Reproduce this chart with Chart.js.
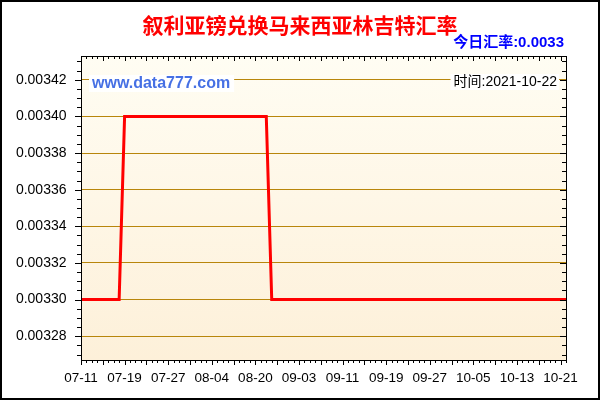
<!DOCTYPE html>
<html>
<head>
<meta charset="utf-8">
<script src="https://cdn.jsdelivr.net/npm/chart.js@4/dist/chart.umd.min.js"></script>
<style>
  html, body { margin: 0; padding: 0; background: #fff; }
  #wrap { width: 600px; height: 400px; }
</style>
</head>
<body>
<div id="wrap"><canvas id="chartRate" width="600" height="400"></canvas></div>
<script>
// Textos do gráfico
const titulo = "叙利亚镑兑换马来西亚林吉特汇率";
const taxaHoje = "今日汇率:0.0033";
const site = "www.data777.com";
const dataTexto = "时间:2021-10-22";

// Datas (eixo X, um ponto por dia de cotação)
const datas = [
  "07-11","07-12","07-13","07-14","07-15","07-16","07-17","07-18","07-19","07-20",
  "07-21","07-22","07-23","07-24","07-25","07-26","07-27","07-28","07-29","07-30",
  "07-31","08-01","08-02","08-03","08-04","08-05","08-06","08-07","08-08","08-09",
  "08-10","08-11","08-20","08-21","08-22","08-23","08-24","08-25","08-26","08-27",
  "09-03","09-04","09-05","09-06","09-07","09-08","09-09","09-10","09-11","09-12",
  "09-13","09-14","09-15","09-16","09-17","09-18","09-19","09-20","09-21","09-22",
  "09-23","09-24","09-25","09-26","09-27","09-28","09-29","09-30","10-01","10-02",
  "10-03","10-04","10-05","10-06","10-07","10-08","10-09","10-10","10-11","10-12",
  "10-13","10-14","10-15","10-16","10-17","10-18","10-19","10-20","10-21","10-22"
];

// Cotação SYP -> MYR
const cotacoes = [
  0.0033,0.0033,0.0033,0.0033,0.0033,0.0033,0.0033,0.0033,0.0034,0.0034,
  0.0034,0.0034,0.0034,0.0034,0.0034,0.0034,0.0034,0.0034,0.0034,0.0034,
  0.0034,0.0034,0.0034,0.0034,0.0034,0.0034,0.0034,0.0034,0.0034,0.0034,
  0.0034,0.0034,0.0034,0.0034,0.0034,0.0033,0.0033,0.0033,0.0033,0.0033,
  0.0033,0.0033,0.0033,0.0033,0.0033,0.0033,0.0033,0.0033,0.0033,0.0033,
  0.0033,0.0033,0.0033,0.0033,0.0033,0.0033,0.0033,0.0033,0.0033,0.0033,
  0.0033,0.0033,0.0033,0.0033,0.0033,0.0033,0.0033,0.0033,0.0033,0.0033,
  0.0033,0.0033,0.0033,0.0033,0.0033,0.0033,0.0033,0.0033,0.0033,0.0033,
  0.0033,0.0033,0.0033,0.0033,0.0033,0.0033,0.0033,0.0033,0.0033,0.0033
];

// Marcas do eixo Y
const yTicks = [0.00328, 0.00330, 0.00332, 0.00334, 0.00336, 0.00338, 0.00340, 0.00342];
const yMin = 0.003267;
const yMax = 0.003433;
const passoMenor = 0.000005;

const fonteLatina = '"Liberation Sans", Arial, "Noto Sans CJK SC", sans-serif';

// Fundo, moldura, marcas e textos
const decoracao = {
  id: 'decoracao',
  beforeDraw(chart) {
    const { ctx, chartArea: a } = chart;
    ctx.save();
    ctx.fillStyle = '#fff';
    ctx.fillRect(0, 0, chart.width, chart.height);
    const g = ctx.createLinearGradient(0, a.top, 0, a.bottom);
    g.addColorStop(0, '#fffdf3');
    g.addColorStop(1, '#fdf0d9');
    ctx.fillStyle = g;
    ctx.fillRect(a.left, a.top, a.right - a.left, a.bottom - a.top);
    ctx.restore();
  },
  afterDraw(chart) {
    const { ctx, chartArea: a } = chart;
    const x = chart.scales.x, y = chart.scales.y;
    ctx.save();

    // moldura da área do gráfico
    ctx.strokeStyle = '#000';
    ctx.lineWidth = 1;
    ctx.strokeRect(Math.round(a.left) + 0.5, Math.round(a.top) + 0.5,
      Math.round(a.right - a.left), Math.round(a.bottom - a.top));

    // marcas do eixo X (embaixo para fora, em cima para dentro)
    ctx.beginPath();
    datas.forEach((d, i) => {
      const px = Math.round(x.getPixelForValue(i)) + 0.5;
      const len = i % 4 === 0 ? 5 : 3;
      ctx.moveTo(px, a.bottom); ctx.lineTo(px, a.bottom + len);
      ctx.moveTo(px, a.top); ctx.lineTo(px, a.top + len);
    });
    // marcas do eixo Y (esquerda para fora, direita para dentro)
    const k0 = Math.ceil(yMin / passoMenor - 1e-6);
    const k1 = Math.floor(yMax / passoMenor + 1e-6);
    for (let k = k0; k <= k1; k++) {
      const py = Math.round(y.getPixelForValue(k * passoMenor)) + 0.5;
      const len = k % 4 === 0 ? 6 : 4;
      ctx.moveTo(a.left - len, py); ctx.lineTo(a.left, py);
      ctx.moveTo(a.right - len, py); ctx.lineTo(a.right, py);
    }
    ctx.stroke();

    // borda externa
    ctx.lineWidth = 2;
    ctx.strokeRect(1, 1, chart.width - 2, chart.height - 2);

    // título
    ctx.fillStyle = '#ff0000';
    ctx.font = 'bold 21px "Noto Sans CJK SC", sans-serif';
    ctx.textAlign = 'center';
    ctx.textBaseline = 'middle';
    ctx.fillText(titulo, 300, 25);

    // taxa de hoje
    ctx.fillStyle = '#0000ff';
    ctx.font = 'bold 15px ' + fonteLatina;
    ctx.textAlign = 'right';
    ctx.fillText(taxaHoje, 564, 43);

    // site
    ctx.font = 'bold 16px ' + fonteLatina;
    ctx.textAlign = 'left';
    let w = ctx.measureText(site).width;
    ctx.fillStyle = '#fff';
    ctx.fillRect(89, 75, w + 7, 17);
    ctx.fillStyle = '#4670e4';
    ctx.fillText(site, 92, 84);

    // data
    ctx.font = '14px ' + fonteLatina;
    ctx.textAlign = 'right';
    w = ctx.measureText(dataTexto).width;
    ctx.fillStyle = '#fff';
    ctx.fillRect(557 - w - 3, 74, w + 5, 16);
    ctx.fillStyle = '#000';
    ctx.fillText(dataTexto, 557, 82);

    ctx.restore();
  }
};

new Chart(document.getElementById('chartRate').getContext('2d'), {
  type: 'line',
  data: {
    labels: datas,
    datasets: [{
      data: cotacoes,
      borderColor: '#ff0000',
      borderWidth: 3,
      pointRadius: 0,
      tension: 0,
      fill: false
    }]
  },
  options: {
    responsive: false,
    animation: false,
    devicePixelRatio: 1,
    layout: { padding: { left: 0, top: 56, right: 34, bottom: 0 } },
    plugins: { legend: { display: false }, title: { display: false }, tooltip: { enabled: false } },
    scales: {
      x: {
        type: 'category',
        offset: false,
        grid: { display: false, drawTicks: false },
        border: { display: false },
        ticks: {
          autoSkip: false,
          maxRotation: 0,
          padding: 10,
          color: '#000',
          font: { family: fonteLatina, size: 13.5 },
          callback: (v, i) => (i % 8 === 0 ? datas[i] : '')
        },
        afterFit: s => { s.height = 40; }
      },
      y: {
        min: yMin,
        max: yMax,
        grid: { color: '#b8860b', lineWidth: 1, drawTicks: false },
        border: { display: false },
        ticks: {
          padding: 14.5,
          color: '#000',
          font: { family: fonteLatina, size: 14 },
          callback: v => v.toFixed(5)
        },
        afterBuildTicks: s => { s.ticks = yTicks.map(v => ({ value: v })); },
        afterFit: s => { s.width = 81; }
      }
    }
  },
  plugins: [decoracao]
});
</script>
</body>
</html>
